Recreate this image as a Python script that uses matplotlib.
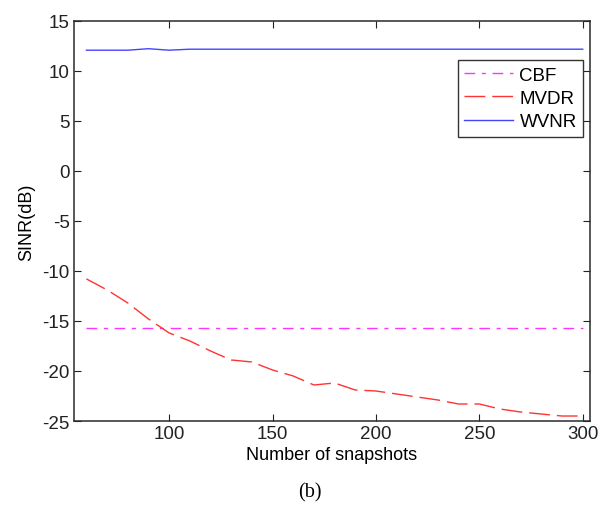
import matplotlib
matplotlib.use("Agg")
import matplotlib.pyplot as plt

plt.rcParams['font.family'] = ['Liberation Sans', 'DejaVu Sans']
plt.rcParams['lines.scale_dashes'] = False
plt.rcParams['axes.unicode_minus'] = False

snapshots = [60, 70, 80, 90, 100, 110, 120, 130, 140, 150, 160, 170, 180,
             190, 200, 210, 220, 230, 240, 250, 260, 270, 280, 290, 300]
cbf = [-15.7] * len(snapshots)
mvdr = [-10.8, -11.9, -13.2, -14.8, -16.2, -17.0, -18.0, -18.9, -19.1, -19.9,
        -20.5, -21.4, -21.2, -21.9, -22.0, -22.3, -22.6, -22.9, -23.3, -23.3,
        -23.8, -24.1, -24.3, -24.5, -24.5]
wvnr = [12.05, 12.05, 12.05, 12.2, 12.05, 12.15, 12.15, 12.15, 12.15, 12.15,
        12.15, 12.15, 12.15, 12.15, 12.15, 12.15, 12.15, 12.15, 12.15, 12.15,
        12.15, 12.15, 12.15, 12.15, 12.15]
xticks = [100, 150, 200, 250, 300]
yticks = [-25, -20, -15, -10, -5, 0, 5, 10, 15]

fig = plt.figure(figsize=(5.98, 5.10), dpi=100)
ax = fig.add_axes([0.1237, 0.1725, 0.8629, 0.785])

ax.plot(snapshots, cbf, color='#ff33ff', lw=1.0, linestyle=(0, (7.7, 4.8, 2.9, 4.8)), label='CBF')
ax.plot(snapshots, mvdr, color='#ff3333', lw=1.0, linestyle=(0, (15, 5)), label='MVDR')
ax.plot(snapshots, wvnr, color='#4444ff', lw=1.0, linestyle='-', label='WVNR')

ax.set_xlim(54, 303.5)
ax.set_ylim(-25, 15)
ax.set_xticks(xticks)
ax.set_yticks(yticks)
ax.tick_params(direction='in', top=True, right=True, length=5, width=0.8,
               labelsize=13.5, colors='#222222', pad=3)
for s in ax.spines.values():
    s.set_linewidth(1.1)
    s.set_color('#2a2a2a')

ax.set_xlabel('Number of snapshots', fontsize=13, labelpad=3)
ax.set_ylabel('SINR(dB)', fontsize=13, labelpad=5)

leg = ax.legend(loc='upper right', bbox_to_anchor=(0.987, 0.902), borderaxespad=0,
                fontsize=13.5, handlelength=2.6, handletextpad=0.35, labelspacing=0.33,
                borderpad=0.35, fancybox=False, framealpha=1, edgecolor='#333333')
leg.get_frame().set_linewidth(1.0)

fig.text(0.518, 0.033, '(b)', ha='center', va='center', fontsize=14.5,
         family=['Liberation Serif', 'DejaVu Serif'])

fig.savefig('out.png', dpi=100)
